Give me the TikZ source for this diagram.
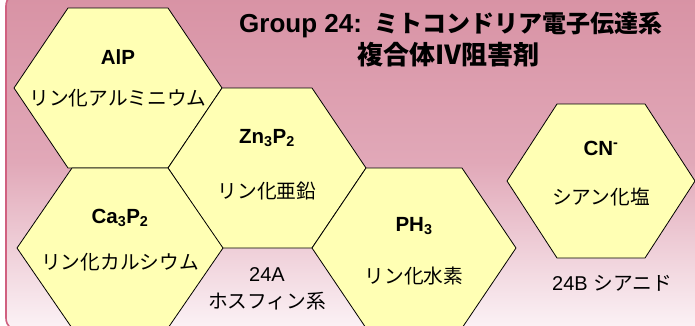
\documentclass[tikz,border=0pt]{standalone}
\usepackage{fontspec}
\setmainfont{Liberation Sans}
\newfontfamily\jp{Noto Sans CJK JP}
\definecolor{hexfill}{RGB}{255,255,180}
\definecolor{bgtop}{RGB}{216,146,164}
\definecolor{bgmid}{RGB}{225,168,184}
\definecolor{bgbot}{RGB}{252,244,247}
\definecolor{bgline}{RGB}{208,96,128}
\newcommand{\myhex}[6]{%
  \draw[hexline, shift={(#2,#3)}] (-#4,0) -- (-#5,-#6) -- (#5,-#6) -- (#4,0) -- (#5,#6) -- (-#5,#6) -- cycle;
  \coordinate (#1) at (#2,#3);}
\begin{document}
\begin{tikzpicture}[x=1pt,y=-1pt,
  hexline/.style={draw=black, fill=hexfill, line width=0.8pt, line join=miter},
  formula/.style={font=\fontsize{20.5}{22}\selectfont\bfseries, inner sep=0pt},
  jname/.style={font=\jp\fontsize{19.7}{22}\selectfont, inner sep=0pt},
  grouplbl/.style={font=\fontsize{20}{22}\selectfont, inner sep=0pt, align=center},
  titlelbl/.style={font=\fontsize{26}{30}\selectfont\bfseries, inner sep=0pt}]
\useasboundingbox (0,0) rectangle (695,325);
\clip (0,0) rectangle (695,325);
\path[draw=bgline, line width=1.6pt, rounded corners=14pt, top color=bgtop, bottom color=bgbot, middle color=bgmid]
  (6,-8) rectangle (720,332);
% hexagons
\myhex{h1}{118}{88}{104}{50}{80}
\myhex{h2}{267}{168}{99}{45}{80}
\myhex{h3}{120}{248}{103}{48}{80}
\myhex{h4}{414}{248}{102}{48}{80}
\myhex{h5}{601}{181}{94}{44}{77}
% title
\node[titlelbl, anchor=west] (t1) at (239,25) {Group 24:\hspace{0.5em}{\jp\bfseries\fontsize{24}{30}\selectfont ミトコンドリア電子伝達系}};
\node[titlelbl] (t2) at (448,55) {\jp\bfseries\fontsize{26}{30}\selectfont 複合体Ⅳ阻害剤};
% labels
\node[formula] (f1) at (118,57) {AlP};
\node[jname] (n1) at (118,98) {リン化アルミニウム};
\node[formula] (f2) at (267,138) {Zn\textsubscript{3}P\textsubscript{2}};
\node[jname] (n2) at (267,191) {リン化亜鉛};
\node[formula] (f3) at (120,218) {Ca\textsubscript{3}P\textsubscript{2}};
\node[jname] (n3) at (120,262) {リン化カルシウム};
\node[formula] (f4) at (414,226) {PH\textsubscript{3}};
\node[jname] (n4) at (414,276) {リン化水素};
\node[formula] (f5) at (601,148) {CN\textsuperscript{-}};
\node[jname] (n5) at (601,197) {シアン化塩};
\node[grouplbl] (g1) at (267,275) {24A};
\node[jname] (g1b) at (267,301) {ホスフィン系};
\node[jname, anchor=west] (g2) at (552,283) {{\fontsize{20}{22}\selectfont\rmfamily 24B }シアニド};
\end{tikzpicture}
\end{document}
